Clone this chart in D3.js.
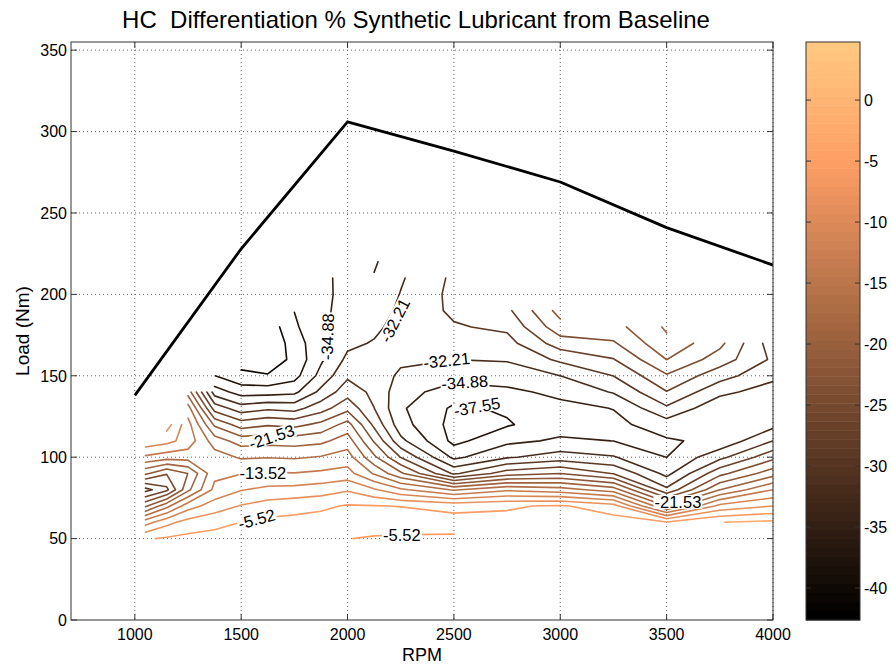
<!DOCTYPE html>
<html><head><meta charset="utf-8">
<script src="https://cdn.jsdelivr.net/npm/d3@7"></script>
<style>
body{margin:0;background:#fff;}
text{font-family:"Liberation Sans",Arial,Helvetica,sans-serif;fill:#000;}
</style>
</head><body>
<svg id="chart" width="891" height="666"></svg>
<script>
// ---------------- DATA ----------------
const titleText = "HC  Differentiation % Synthetic Lubricant from Baseline";
const xTicks = [1000, 1500, 2000, 2500, 3000, 3500, 4000];
const yTicks = [0, 50, 100, 150, 200, 250, 300, 350];
const cbTicks = [0, -5, -10, -15, -20, -25, -30, -35, -40];

// full-load (torque) curve
const wotRpm  = [1000, 1500, 2000, 2500, 3000, 3500, 4000];
const wotLoad = [138, 228, 306, 288, 269, 241, 218];

// measurement grid (HC differentiation %), one array per RPM column, loads 50..220
const rpmGrid  = [1050,1150,1250,1375,1500,1625,1750,1875,2000,2125,2250,2500,2750,3000,3250,3500,3750,4000];
const loadGrid = [50,60,70,80,90,100,110,120,130,140,150,160,170,180,190,200,210,220];
const _ = null;
const hc1050 = [-5.8,-12,-22,-30.5,-21,-14,-9,_,_,_,_,_,_,_,_,_,_,_];
const hc1150 = [-5.2,-9,-17,-27.5,-24,-15,-10,-7,_,_,_,_,_,_,_,_,_,_];
const hc1250 = [-4.8,-7.2,-12,-19.5,-21.5,-15,-12,-12.5,-15,-20,_,_,_,_,_,_,_,_];
const hc1375 = [-4.6,-6.3,-9.6,-12.8,-14.2,-15,-17.5,-22,-28,-33.5,-37.5,_,_,_,_,_,_,_];
const hc1500 = [-4.5,-5.5,-8,-11,-13.6,-16.5,-20,-25.5,-31,-36,-39.5,-41.5,_,_,_,_,_,_];
const hc1625 = [-4.3,-4.9,-7,-10.2,-13.3,-16.3,-19.8,-24.5,-30,-36,-40,-42,-42.5,-42,_,_,_,_];
const hc1750 = [-4.2,-4.7,-6.5,-10,-13.4,-16.5,-20,-25,-30.5,-35.5,-38.5,-39.5,-39,-38,-37.5,_,_,_];
const hc1875 = [-4.1,-4.5,-6,-9.5,-13,-16,-19.5,-23.5,-28,-31.5,-34,-35.3,-35.5,-35.4,-35.3,-35.2,-35.1,_];
const hc2000 = [-5.45,-4.2,-5.3,-8.5,-12.5,-15,-17.5,-20.5,-25,-28,-30,-31.6,-32.8,-33.6,-34.2,-34.5,-34.6,_];
const hc2125 = [-5.8,-4.1,-5.4,-10.5,-16.5,-21,-24.5,-27.5,-29.5,-30.2,-30.4,-31.2,-32,-32.8,-33.5,-34.2,-34.7,-35.2];
const hc2250 = [-6,-4,-5.6,-13,-21,-27,-31.5,-33.8,-34.5,-33.8,-32.8,-31.6,-31,-31.2,-31.7,-32.1,-32.5,-33];
const hc2500 = [-5.9,-4.5,-6.3,-16.5,-30,-35.5,-38.3,-38.5,-38,-36.2,-33.8,-32.2,-31,-29.8,-29,-28.8,-29,_];
const hc2750 = [_,-4.8,-5.8,-14,-25.5,-32.5,-35.5,-37.8,-37.2,-35.5,-33.5,-32,-30.5,-29,-27.5,-27,_,_];
const hc3000 = [_,-4.5,-5.2,-15,-24.2,-31,-34.5,-36,-35.7,-34.2,-32.2,-29,-25.5,-22.5,-20.5,_,_,_];
const hc3250 = [_,-4.3,-7,-17.5,-27,-32,-34.9,-35.6,-34.8,-32,-29.5,-27,-24.5,-22.5,_,_,_,_];
const hc3500 = [_,-5.2,-19,-29,-33,-34.9,-35.2,-33.5,-30,-27,-24.5,-21.5,-19.5,-18.5,_,_,_,_];
const hc3750 = [_,-2.9,-10,-18.9,-25,-30.3,-34.2,-34.7,-34.2,-31.5,-28.5,-25.5,-23.5,_,_,_,_,_];
const hc4000 = [_,-2.3,-8.2,-13.5,-20,-25,-29.5,-33,-34.2,-33.5,-31.5,-30,-31,_,_,_,_,_];
const hcColumns = [hc1050,hc1150,hc1250,hc1375,hc1500,hc1625,hc1750,hc1875,hc2000,hc2125,hc2250,hc2500,hc2750,hc3000,hc3250,hc3500,hc3750,hc4000];

// contour levels
const levels = [-42.89,-40.22,-37.55,-34.88,-32.21,-29.54,-26.87,-24.20,-21.53,-18.86,-16.19,-13.52,-10.86,-8.19,-5.52,-2.85];
// inline contour labels
const labelText  = ["-34.88","-32.21","-32.21","-34.88","-37.55","-21.53","-13.52","-5.52","-5.52","-21.53"];
const labelRpm   = [1905, 2222, 2466, 2551, 2608, 1643, 1602, 1573, 2255, 3553];
const labelLoad  = [174, 184, 159.5, 146, 131, 112.5, 90, 62, 52, 72.5];
const labelAngle = [-88, -63, -6, -4, -10, -18, 0, -15, 0, 0];

// colour axis limits
const cMin = -42.62, cMax = 4.76;

// ---------------- LAYOUT ----------------
const svg = d3.select("#chart");
const plot = {left: 71, right: 773, top: 42, bottom: 620};
const x = d3.scaleLinear().domain([700, 4000]).range([plot.left, plot.right]);
const y = d3.scaleLinear().domain([0, 355]).range([plot.bottom, plot.top]);
const cb = {left: 806, right: 860, top: 42, bottom: 620};
const cy = d3.scaleLinear().domain([cMin, cMax]).range([cb.bottom, cb.top]);

function copper(t) {
  t = Math.max(0, Math.min(1, t));
  const r = Math.min(1, 1.25 * t), g = 0.7812 * t, b = 0.4975 * t;
  return d3.rgb(r * 255, g * 255, b * 255).toString();
}
const levelColor = v => copper((v - cMin) / (cMax - cMin));

// grid lines
const gGrid = svg.append("g");
xTicks.forEach(t => gGrid.append("line").attr("x1", x(t)).attr("x2", x(t)).attr("y1", plot.top).attr("y2", plot.bottom));
yTicks.filter(t => t > 0).forEach(t => gGrid.append("line").attr("x1", plot.left).attr("x2", plot.right).attr("y1", y(t)).attr("y2", y(t)));
gGrid.selectAll("line").attr("stroke", "#666").attr("stroke-width", 1).attr("stroke-dasharray", "1,3");

// ---------------- CONTOURS (marching squares on the grid) ----------------
function contourLines(xs, ys, Z, t) {
  const segs = [];
  for (let i = 0; i < xs.length - 1; i++) for (let j = 0; j < ys.length - 1; j++) {
    const a = Z[i][j], b = Z[i+1][j], c = Z[i+1][j+1], d = Z[i][j+1];
    if (a == null || b == null || c == null || d == null) continue;
    const ba = a >= t, bb = b >= t, bc = c >= t, bd = d >= t;
    const P = {};
    if (ba !== bb) P.B = {k: "h"+i+"_"+j, x: xs[i] + (t-a)/(b-a)*(xs[i+1]-xs[i]), y: ys[j]};
    if (bb !== bc) P.R = {k: "v"+(i+1)+"_"+j, x: xs[i+1], y: ys[j] + (t-b)/(c-b)*(ys[j+1]-ys[j])};
    if (bc !== bd) P.T = {k: "h"+i+"_"+(j+1), x: xs[i] + (t-d)/(c-d)*(xs[i+1]-xs[i]), y: ys[j+1]};
    if (bd !== ba) P.L = {k: "v"+i+"_"+j, x: xs[i], y: ys[j] + (t-a)/(d-a)*(ys[j+1]-ys[j])};
    const ks = Object.keys(P);
    if (ks.length === 2) segs.push([P[ks[0]], P[ks[1]]]);
    else if (ks.length === 4) {
      const center = (a+b+c+d)/4 >= t;
      if (ba) {
        if (center) { segs.push([P.B, P.R]); segs.push([P.T, P.L]); }
        else { segs.push([P.B, P.L]); segs.push([P.T, P.R]); }
      } else {
        if (center) { segs.push([P.B, P.L]); segs.push([P.T, P.R]); }
        else { segs.push([P.B, P.R]); segs.push([P.T, P.L]); }
      }
    }
  }
  const adj = new Map();
  segs.forEach((s, idx) => s.forEach(p => { if (!adj.has(p.k)) adj.set(p.k, []); adj.get(p.k).push(idx); }));
  const used = new Array(segs.length).fill(false);
  const lines = [];
  function walk(idx, startEnd) {
    used[idx] = true;
    const s = segs[idx];
    const pts = startEnd === 0 ? [s[0], s[1]] : [s[1], s[0]];
    let cur = pts[1];
    while (true) {
      const nb = (adj.get(cur.k) || []).filter(n => !used[n]);
      if (!nb.length) break;
      const n = nb[0]; used[n] = true;
      const sn = segs[n];
      const nxt = sn[0].k === cur.k ? sn[1] : sn[0];
      pts.push(nxt); cur = nxt;
    }
    return pts;
  }
  segs.forEach((s, idx) => {
    if (used[idx]) return;
    if (adj.get(s[0].k).length === 1) lines.push(walk(idx, 0));
    else if (adj.get(s[1].k).length === 1) lines.push(walk(idx, 1));
  });
  segs.forEach((s, idx) => { if (!used[idx]) lines.push(walk(idx, 0)); });
  return lines;
}

svg.append("defs").append("clipPath").attr("id", "plotClip")
  .append("rect").attr("x", plot.left).attr("y", plot.top)
  .attr("width", plot.right - plot.left).attr("height", plot.bottom - plot.top);

const gC = svg.append("g").attr("clip-path", "url(#plotClip)");
const lineGen = d3.line().x(p => x(p.x)).y(p => y(p.y));
levels.forEach(lv => {
  const polys = contourLines(rpmGrid, loadGrid, hcColumns, lv);
  polys.forEach(pl => {
    gC.append("path").attr("d", lineGen(pl))
      .attr("fill", "none").attr("stroke", levelColor(lv))
      .attr("stroke-width", 1.6).attr("stroke-linejoin", "round").attr("stroke-linecap", "round");
  });
});

// full load line
gC.append("path")
  .attr("d", d3.line().x((d, i) => x(wotRpm[i])).y((d, i) => y(wotLoad[i]))(wotRpm))
  .attr("fill", "none").attr("stroke", "#000").attr("stroke-width", 2.8).attr("stroke-linejoin", "round");

// contour labels
const gL = svg.append("g");
labelText.forEach((txt, i) => {
  const g = gL.append("g").attr("transform", `translate(${x(labelRpm[i])},${y(labelLoad[i])}) rotate(${labelAngle[i]})`);
  const rect = g.append("rect").attr("fill", "#fff");
  const t = g.append("text").text(txt).attr("text-anchor", "middle").attr("dy", "0.36em")
    .attr("font-size", 16.5);
  const bb = t.node().getBBox();
  rect.attr("x", bb.x - 1).attr("y", bb.y + 2).attr("width", bb.width + 2).attr("height", bb.height - 4);
});

// ---------------- AXES ----------------
const gA = svg.append("g");
gA.append("rect").attr("x", plot.left).attr("y", plot.top).attr("width", plot.right - plot.left)
  .attr("height", plot.bottom - plot.top).attr("fill", "none").attr("stroke", "#333").attr("stroke-width", 1);
const tl = 6;
xTicks.forEach(t => {
  gA.append("line").attr("x1", x(t)).attr("x2", x(t)).attr("y1", plot.bottom).attr("y2", plot.bottom - tl).attr("stroke", "#333");
  gA.append("line").attr("x1", x(t)).attr("x2", x(t)).attr("y1", plot.top).attr("y2", plot.top + tl).attr("stroke", "#333");
  gA.append("text").attr("x", x(t)).attr("y", plot.bottom + 20).attr("text-anchor", "middle")
    .attr("font-size", 16).text(t);
});
yTicks.forEach(t => {
  gA.append("line").attr("x1", plot.left).attr("x2", plot.left + tl).attr("y1", y(t)).attr("y2", y(t)).attr("stroke", "#333");
  gA.append("line").attr("x1", plot.right).attr("x2", plot.right - tl).attr("y1", y(t)).attr("y2", y(t)).attr("stroke", "#333");
  gA.append("text").attr("x", plot.left - 4).attr("y", y(t)).attr("dy", "0.36em").attr("text-anchor", "end")
    .attr("font-size", 16).text(t);
});
svg.append("text").attr("x", 416).attr("y", 28).attr("text-anchor", "middle")
  .style("white-space", "pre").attr("xml:space", "preserve")
  .attr("font-size", 24).text(titleText);
svg.append("text").attr("x", (plot.left + plot.right) / 2).attr("y", 661).attr("text-anchor", "middle")
  .attr("font-size", 18).text("RPM");
svg.append("text").attr("transform", `translate(29,${(plot.top + plot.bottom) / 2}) rotate(-90)`)
  .attr("text-anchor", "middle").attr("font-size", 19).text("Load (Nm)");

// ---------------- COLORBAR ----------------
const gCB = svg.append("g");
const nCol = 64;
d3.range(nCol).forEach(i => {
  const v0 = cMin + (cMax - cMin) * i / nCol, v1 = cMin + (cMax - cMin) * (i + 1) / nCol;
  gCB.append("rect").attr("x", cb.left).attr("width", cb.right - cb.left)
    .attr("y", cy(v1)).attr("height", cy(v0) - cy(v1) + 0.5).attr("fill", copper(i / (nCol - 1)));
});
gCB.append("rect").attr("x", cb.left).attr("y", cb.top).attr("width", cb.right - cb.left)
  .attr("height", cb.bottom - cb.top).attr("fill", "none").attr("stroke", "#333");
cbTicks.forEach(t => {
  gCB.append("line").attr("x1", cb.left).attr("x2", cb.left + 5).attr("y1", cy(t)).attr("y2", cy(t)).attr("stroke", "#333");
  gCB.append("line").attr("x1", cb.right).attr("x2", cb.right - 5).attr("y1", cy(t)).attr("y2", cy(t)).attr("stroke", "#333");
  gCB.append("text").attr("x", cb.right + 4).attr("y", cy(t)).attr("dy", "0.36em").attr("font-size", 16).text(t);
});
</script>
</body></html>
